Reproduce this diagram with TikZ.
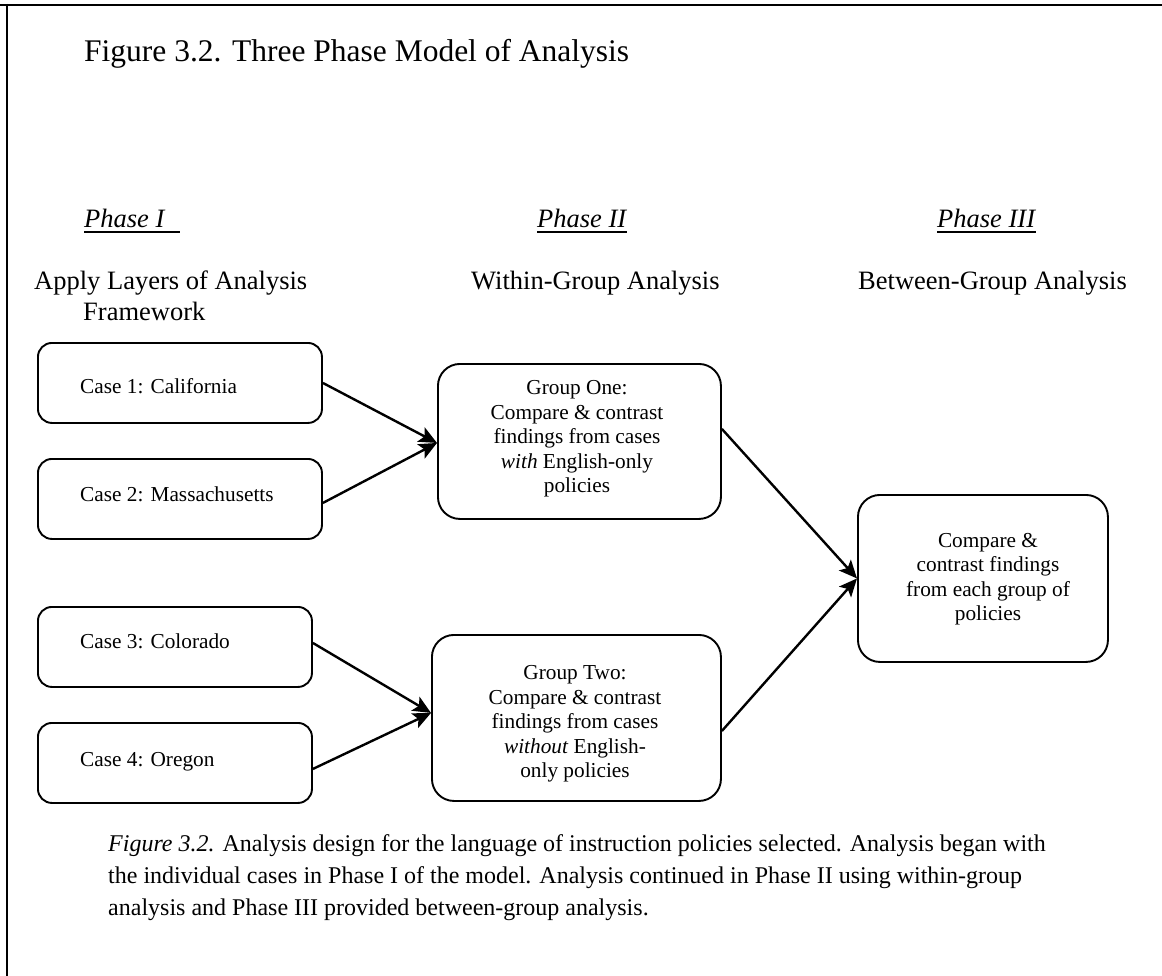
\documentclass[tikz,border=0pt]{standalone}
\usepackage{fontspec}
\setmainfont{Liberation Serif}
\usetikzlibrary{arrows.meta}
\begin{document}
\begin{tikzpicture}[x=1pt,y=-1pt,
  frameline/.style={line width=2.4pt},
  txt/.style={inner sep=0pt, anchor=base west},
  titletxt/.style={txt, font=\fontsize{31.5}{36}\selectfont},
  headtxt/.style={txt, font=\fontsize{26.5}{30}\selectfont},
  phasetxt/.style={headtxt, font=\fontsize{26.5}{30}\selectfont\itshape},
  uline/.style={line width=1.6pt},
  bodytxt/.style={inner sep=0pt, align=center, font=\fontsize{21.3}{24.5}\selectfont},
  casetxt/.style={txt, font=\fontsize{21.3}{24.5}\selectfont},
  capttxt/.style={inner sep=0pt, anchor=north west, align=left, font=\fontsize{24}{32}\selectfont},
  casebox/.style={draw, line width=1.9pt, rounded corners=14pt, anchor=north west,
    minimum height=80pt, inner sep=0pt},
  groupbox/.style={draw, line width=1.9pt, rounded corners=22pt, anchor=north west, inner sep=0pt},
  arr/.style={line width=2.4pt, -{Stealth[length=18pt, width=16pt, inset=4pt]}}
]
\useasboundingbox (0,0) rectangle (1162,976);
\fill[white] (0,0) rectangle (1162,976);

% frame: top and left rules
\draw[frameline] (0,5) -- (1162,5);
\draw[frameline] (7,4) -- (7,976);

% title
\node[titletxt] (title) at (84,62) {Figure 3.2. Three Phase Model of Analysis};

% phase headings
\node[phasetxt] (ph1) at (84,228) {Phase I};
\node[phasetxt] (ph2) at (537,228) {Phase II};
\node[phasetxt] (ph3) at (937,228) {Phase III};
\draw[uline] (84,232) -- (180,232);
\draw[uline] (537,232) -- (627,232);
\draw[uline] (937,232) -- (1036,232);

\node[headtxt] (h1a) at (34,290) {Apply Layers of Analysis};
\node[headtxt] (h1b) at (83,320) {Framework};
\node[headtxt] (h2) at (471,290) {Within-Group Analysis};
\node[headtxt] (h3) at (858,290) {Between-Group Analysis};

% phase I cases
\node[casebox, minimum width=284pt] (c1) at (37,342) {};
\node[casebox, minimum width=284pt] (c2) at (37,458) {};
\node[casebox, minimum width=274pt] (c3) at (37,606) {};
\node[casebox, minimum width=274pt] (c4) at (37,722) {};
\node[casetxt] (c1t) at (80,393) {Case 1: California};
\node[casetxt] (c2t) at (80,501) {Case 2: Massachusetts};
\node[casetxt] (c3t) at (80,648) {Case 3: Colorado};
\node[casetxt] (c4t) at (80,766) {Case 4: Oregon};

% phase II groups
\node[groupbox, minimum width=283pt, minimum height=155pt] (g1) at (437,363) {};
\node[groupbox, minimum width=289pt, minimum height=166pt] (g2) at (431,634) {};
\node[bodytxt] (g1t) at (577,439) {Group One:\\Compare \& contrast\\findings from cases\\\textit{with} English-only\\policies};
\node[bodytxt] (g2t) at (575,724) {Group Two:\\Compare \& contrast\\findings from cases\\\textit{without} English-\\only policies};

% phase III
\node[groupbox, minimum width=250pt, minimum height=167pt] (f) at (857,494) {};
\node[bodytxt] (ft) at (988,579) {Compare \&\\contrast findings\\from each group of\\policies};

% connectors
\draw[arr] (c1.east) -- ([yshift=-1.5pt]g1.west);
\draw[arr] ([yshift=-4pt]c2.east) -- ([yshift=-1.5pt]g1.west);
\draw[arr] ([yshift=4pt]c3.east) -- ([yshift=5pt]g2.west);
\draw[arr] ([yshift=-6pt]c4.east) -- ([yshift=5pt]g2.west);
\draw[arr] ([yshift=12.5pt]g1.east) -- (f.west);
\draw[arr] ([yshift=-13pt]g2.east) -- (f.west);

% caption
\node[capttxt] (cap) at (108,834) {\textit{Figure 3.2.} Analysis design for the language of instruction policies selected. Analysis began with\\
the individual cases in Phase I of the model. Analysis continued in Phase II using within-group\\
analysis and Phase III provided between-group analysis.};
\end{tikzpicture}
\end{document}
